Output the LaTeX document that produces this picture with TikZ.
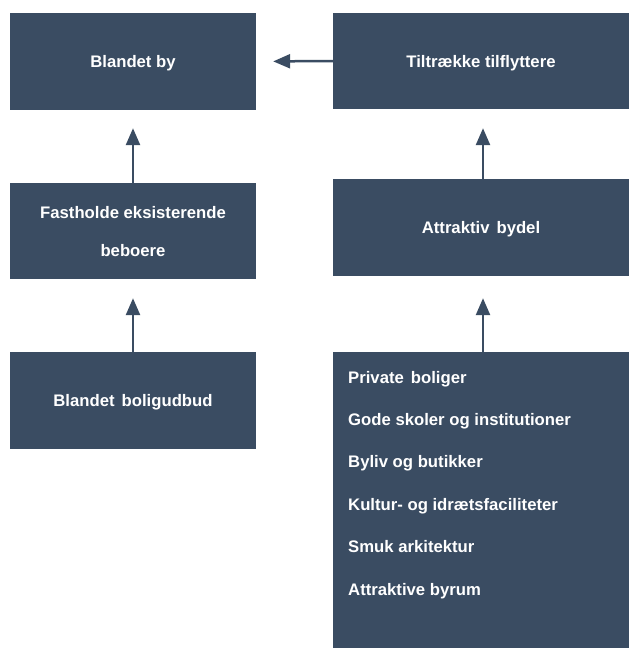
\documentclass[tikz,border=0pt]{standalone}
\usepackage{fontspec}
\setmainfont{Liberation Sans}
\usetikzlibrary{positioning,arrows.meta}
\definecolor{slate}{HTML}{3A4C62}

\begin{document}
\begin{tikzpicture}[x=1pt,y=-1pt,
  box/.style={fill=slate,text=white,font=\bfseries\fontsize{16.7}{38}\selectfont,
    align=center,inner sep=0pt,text depth=-5pt},
  item/.style={text=white,font=\bfseries\fontsize{16.7}{18}\selectfont,inner sep=0pt,anchor=base west},
  link/.style={draw=slate,line width=2.5pt,-{Triangle[width=14pt,length=17pt]}}]
  \useasboundingbox (0,0) rectangle (629,648);

  % Left column
  \node[box,minimum width=246pt,minimum height=97pt] (mixed) at (133,61.5) {Blandet by};
  \node[box,minimum width=246pt,minimum height=96pt] (keep) at (133,231) {Fastholde eksisterende\\beboere};
  \node[box,minimum width=246pt,minimum height=97pt] (housing) at (133,400.5) {Blandet\hspace{7pt}boligudbud};

  % Right column
  \node[box,minimum width=296pt,minimum height=96pt] (attract) at (481,61) {Tiltrække tilflyttere};
  \node[box,minimum width=296pt,minimum height=97pt] (district) at (481,227.5) {Attraktiv\hspace{7pt}bydel};
  \node[box,minimum width=296pt,minimum height=296pt] (factors) at (481,500) {};

  % Factors list
  \foreach \t [count=\i] in {Private\hspace{7pt}boliger, Gode skoler og institutioner,
      Byliv og butikker, Kultur- og idrætsfaciliteter, Smuk arkitektur, Attraktive byrum}
    \node[item] (factor\i) at (348,{383+42.4*(\i-1)}) {\t};

  % Arrows
  \draw[link,shorten >=18pt] (keep.north) -- (mixed.south);
  \draw[link,shorten >=19pt] (housing.north) -- (keep.south);
  \draw[link,shorten >=17pt] (attract.west) -- (mixed.east);
  \draw[link,shorten >=19pt] ([xshift=2pt]district.north) -- ([xshift=2pt]attract.south);
  \draw[link,shorten >=22pt] ([xshift=2pt]factors.north) -- ([xshift=2pt]district.south);
\end{tikzpicture}
\end{document}
